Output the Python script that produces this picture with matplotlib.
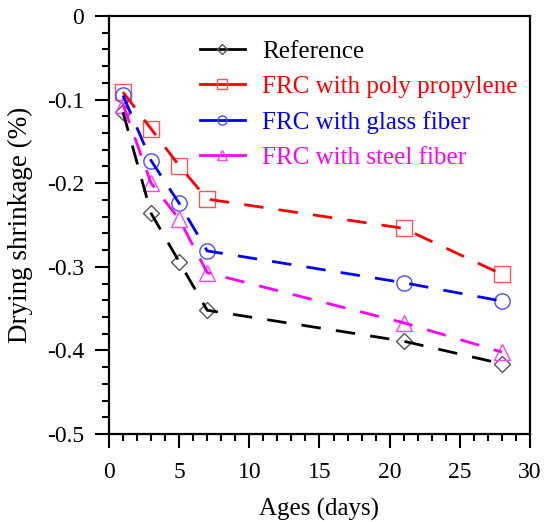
import matplotlib
matplotlib.use("Agg")
import matplotlib.pyplot as plt
from matplotlib.ticker import MultipleLocator

plt.rcParams['font.family'] = ['Liberation Serif', 'DejaVu Serif']

ages = [1, 3, 5, 7, 21, 28]
reference = [-0.115, -0.236, -0.294, -0.352, -0.389, -0.416]
poly_propylene = [-0.091, -0.135, -0.179, -0.219, -0.254, -0.309]
glass_fiber = [-0.095, -0.173, -0.224, -0.281, -0.319, -0.341]
steel_fiber = [-0.106, -0.200, -0.243, -0.307, -0.367, -0.402]

labels = ["Reference", "FRC with poly propylene", "FRC with glass fiber", "FRC with steel fiber"]
line_colors = ["black", "red", "blue", "magenta"]
edge_colors = ["#555555", "#ff5555", "#4a4aff", "#ff44ff"]
markers = ["D", "s", "o", "^"]
msizes = [8, 11, 11, 11]
series = [reference, poly_propylene, glass_fiber, steel_fiber]

fig = plt.figure(figsize=(5.46, 5.22), dpi=100)
ax = fig.add_axes([0.1996, 0.1686, 0.7711, 0.8007])

for vals, lab, lc, ec, m, ms in zip(series, labels, line_colors, edge_colors, markers, msizes):
    ax.plot(ages, vals, color=ec, marker=m, linestyle='none', markersize=ms,
            markerfacecolor='none', markeredgecolor=ec, markeredgewidth=1.0, zorder=2)
    ax.plot(ages, vals, color=lc, linestyle=(0, (7, 5.5)), linewidth=2.0, zorder=3)
    ax.plot([], [], color=lc, linestyle='-', linewidth=2.0, marker=m,
            markersize=ms * 0.6, markerfacecolor='none', markeredgecolor=ec,
            markeredgewidth=1.0, label=lab)

ax.set_xlim(0, 30)
ax.set_ylim(-0.5, 0)
ax.xaxis.set_major_locator(MultipleLocator(5))
ax.xaxis.set_minor_locator(MultipleLocator(1))
ax.yaxis.set_minor_locator(MultipleLocator(0.02))
ax.set_yticks([-0.5, -0.4, -0.3, -0.2, -0.1, 0])
ax.set_yticklabels(["-0.5", "-0.4", "-0.3", "-0.2", "-0.1", "0"])
ax.tick_params(which='major', direction='out', length=10, width=1.5, labelsize=17, pad=8)
ax.tick_params(axis='x', which='major', pad=10)
ax.tick_params(which='minor', direction='out', length=5, width=1.5)
for s in ax.spines.values():
    s.set_linewidth(1.6)

ax.set_xlabel("Ages (days)", fontsize=18, labelpad=11)
ax.set_ylabel("Drying shrinkage (%)", fontsize=19.5, labelpad=10)

leg = ax.legend(loc='upper left', bbox_to_anchor=(0.192, 0.965), frameon=False, fontsize=18,
                handlelength=1.8, handletextpad=0.7, labelspacing=0.5, borderaxespad=0)
for t, c in zip(leg.get_texts(), line_colors):
    t.set_color(c)

fig.savefig("out.png", dpi=100)
